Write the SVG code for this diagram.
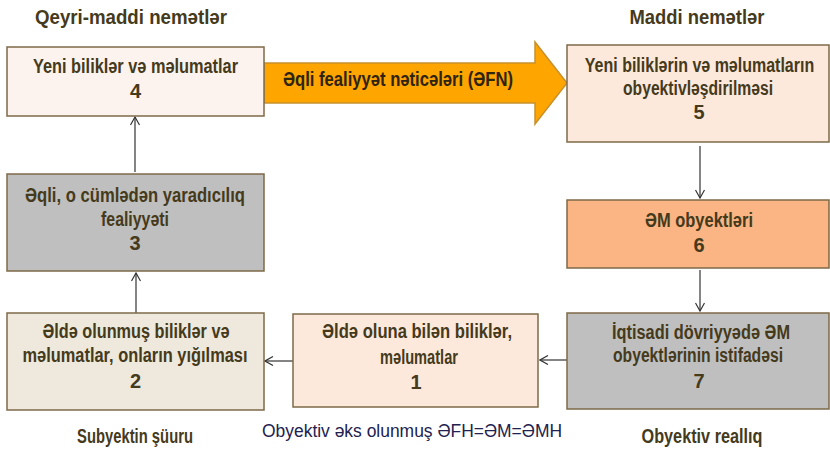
<svg xmlns="http://www.w3.org/2000/svg" width="830" height="450" viewBox="0 0 830 450">
<defs>
<style>
.box{stroke:#7d6a48;stroke-width:1.5}
.t{font-family:"Liberation Sans",Arial,sans-serif;font-weight:bold;font-size:20px;fill:#453a1c;text-anchor:middle}
.title{font-family:"Liberation Sans",Arial,sans-serif;font-weight:bold;font-size:21px;fill:#453a1c;text-anchor:middle}
.sub{font-family:"Liberation Sans",Arial,sans-serif;font-weight:bold;font-size:19.5px;fill:#453a1c;text-anchor:middle}
.mid{font-family:"Liberation Sans",Arial,sans-serif;font-size:18px;fill:#222250;text-anchor:middle}
.edge{stroke:#333;stroke-width:1.2;fill:none;marker-end:url(#ah)}
</style>
<marker id="ah" viewBox="0 0 10 10" refX="9" refY="5" markerWidth="10" markerHeight="10" markerUnits="userSpaceOnUse" orient="auto">
<path d="M1,0.5 L9,5 L1,9.5" fill="none" stroke="#333" stroke-width="1.2"/>
</marker>
</defs>
<rect width="830" height="450" fill="#fff"/>

<g id="titles">
<text class="title" x="131" y="24" textLength="192" lengthAdjust="spacingAndGlyphs">Qeyri-maddi nemətlər</text>
<text class="title" x="697" y="24" textLength="135" lengthAdjust="spacingAndGlyphs">Maddi nemətlər</text>
<text class="sub" x="135" y="443" textLength="116" lengthAdjust="spacingAndGlyphs">Subyektin şüuru</text>
<text class="mid" x="412" y="437" textLength="300" lengthAdjust="spacingAndGlyphs">Obyektiv əks olunmuş ƏFH=ƏM=ƏMH</text>
<text class="sub" x="702" y="443" textLength="121" lengthAdjust="spacingAndGlyphs">Obyektiv reallıq</text>
</g>

<g id="connectors">
<g id="arrow-efn">
<polygon points="264,63 535,63 535,42 567,83 535,124 535,103 264,103" fill="#ffa500" stroke="#c8902c" stroke-width="1.5"/>
<text class="t" x="398" y="86" textLength="230" lengthAdjust="spacingAndGlyphs" style="fill:#2e2410">Əqli fealiyyət nəticələri (ƏFN)</text>
</g>
<line class="edge" x1="135" y1="172" x2="135" y2="117"/>
<line class="edge" x1="136" y1="313" x2="136" y2="273"/>
<line class="edge" x1="293" y1="361" x2="265" y2="361"/>
<line class="edge" x1="567" y1="360" x2="540" y2="360"/>
<line class="edge" x1="700" y1="146" x2="700" y2="198"/>
<line class="edge" x1="700" y1="270" x2="700" y2="311"/>
</g>

<g id="node4">
<rect class="box" x="7" y="47" width="257" height="69" fill="#fdf3ee"/>
<text class="t" x="135.5" y="73" textLength="205" lengthAdjust="spacingAndGlyphs">Yeni biliklər və məlumatlar</text>
<text class="t" x="135.5" y="98">4</text>
</g>

<g id="node3">
<rect class="box" x="7" y="174" width="257" height="97" fill="#bfbfbf"/>
<text class="t" x="135" y="202" textLength="220" lengthAdjust="spacingAndGlyphs">Əqli, o cümlədən yaradıcılıq</text>
<text class="t" x="135" y="226" textLength="68" lengthAdjust="spacingAndGlyphs">fealiyyəti</text>
<text class="t" x="135" y="250">3</text>
</g>

<g id="node2">
<rect class="box" x="7" y="313" width="257" height="97" fill="#efe8dc"/>
<text class="t" x="136" y="338" textLength="187" lengthAdjust="spacingAndGlyphs">Əldə olunmuş biliklər və</text>
<text class="t" x="135" y="362" textLength="225" lengthAdjust="spacingAndGlyphs">məlumatlar, onların yığılması</text>
<text class="t" x="135.5" y="388">2</text>
</g>

<g id="node1">
<rect class="box" x="293" y="314" width="245" height="93" fill="#fde9dc"/>
<text class="t" x="417" y="338" textLength="190" lengthAdjust="spacingAndGlyphs">Əldə oluna bilən biliklər,</text>
<text class="t" x="419" y="364" textLength="78" lengthAdjust="spacingAndGlyphs">məlumatlar</text>
<text class="t" x="416" y="389">1</text>
</g>

<g id="node5">
<rect class="box" x="567" y="45" width="262" height="97" fill="#fde9dc"/>
<text class="t" transform="translate(699.5,72) scale(0.8,1)" x="0" y="0">Yeni biliklərin və məlumatların</text>
<text class="t" x="698" y="95" textLength="150" lengthAdjust="spacingAndGlyphs">obyektivləşdirilməsi</text>
<text class="t" x="699" y="119">5</text>
</g>

<g id="node6">
<rect class="box" x="567" y="200" width="262" height="68" fill="#fbb584"/>
<text class="t" x="699" y="227" textLength="108" lengthAdjust="spacingAndGlyphs">ƏM obyektləri</text>
<text class="t" x="699" y="252">6</text>
</g>

<g id="node7">
<rect class="box" x="567" y="313" width="262" height="96" fill="#bfbfbf"/>
<text class="t" x="701" y="339" textLength="178" lengthAdjust="spacingAndGlyphs">İqtisadi dövriyyədə ƏM</text>
<text class="t" x="698" y="362" textLength="170" lengthAdjust="spacingAndGlyphs">obyektlərinin istifadəsi</text>
<text class="t" x="699" y="388">7</text>
</g>
</svg>
